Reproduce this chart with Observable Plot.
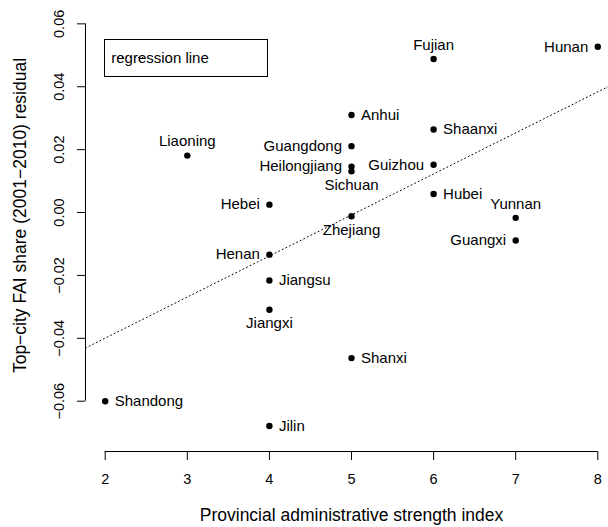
<!DOCTYPE html>
<html><head><meta charset="utf-8">
<script src="https://cdn.jsdelivr.net/npm/d3@7"></script>
<script src="https://cdn.jsdelivr.net/npm/@observablehq/plot@0.6"></script>
<style>
body{margin:0;background:#fff}
svg{font-family:"Liberation Sans",Arial,Helvetica,sans-serif}
</style>
</head><body><div id="chart"></div>
<script>
const provinces = ["Hunan","Fujian","Shaanxi","Anhui","Guangdong","Heilongjiang","Sichuan","Guizhou","Hebei","Zhejiang","Hubei","Yunnan","Guangxi","Henan","Jiangsu","Jiangxi","Shanxi","Liaoning","Shandong","Jilin"];
const adminIndex = [8,6,6,5,5,5,5,6,4,5,6,7,7,4,4,4,5,3,2,4];
const residual = [0.0527,0.0488,0.0264,0.0310,0.0211,0.0146,0.0131,0.0152,0.0025,-0.0012,0.0059,-0.0017,-0.0089,-0.0134,-0.0216,-0.0309,-0.0463,0.0181,-0.0600,-0.0679];
const labelSide = ["left","above","right","right","left","left","below","left","left","below","right","above","left","left","right","below","right","above","right","right"];
const xTicks = [2,3,4,5,6,7,8];
const yTicks = [-0.06,-0.04,-0.02,0,0.02,0.04,0.06];
const xLabel = "Provincial administrative strength index";
const yLabel = "Top\u2212city FAI share (2001\u22122010) residual";
const legendLabel = "regression line";

const rows = provinces.map((p,i)=>({name:p, x:adminIndex[i], y:residual[i], side:labelSide[i]}));
const mx = d3.mean(adminIndex), my = d3.mean(residual);
const slope = d3.sum(rows, d=>(d.x-mx)*(d.y-my)) / d3.sum(rows, d=>(d.x-mx)**2);
const intercept = my - slope*mx;

const xDomain = [1.76, 8.24];
const yDomain = [-0.076, 0.0652];
const regLine = xDomain.map(x => ({x, y: intercept + slope*x}));
const fmtY = d3.format(".2f");
const labelFont = 15;

const chart = Plot.plot({
  width: 608, height: 527,
  marginLeft: 85, marginRight: -9, marginTop: 7, marginBottom: 76,
  style: {fontFamily: '"Liberation Sans", Arial, Helvetica, sans-serif', background: "#fff", color: "#000"},
  x: {domain: xDomain},
  y: {domain: yDomain},
  marks: [
    Plot.line(regLine, {x: "x", y: "y", stroke: "#000", strokeWidth: 1, strokeDasharray: "1,3", clip: true}),
    Plot.ruleX([xDomain[0]], {y1: d3.min(yTicks), y2: d3.max(yTicks), stroke: "#000"}),
    Plot.ruleY([yDomain[0]], {x1: d3.min(xTicks), x2: d3.max(xTicks), stroke: "#000"}),
    Plot.axisX({ticks: xTicks, tickSize: 9, tickFormat: () => "", label: null, stroke: "#000"}),
    Plot.axisY({ticks: yTicks, tickSize: 8, tickFormat: () => "", label: null, stroke: "#000"}),
    Plot.text(xTicks, {x: d => d, y: () => yDomain[0], textAnchor: "middle", lineAnchor: "middle", dy: 28, text: d => String(d), fontSize: 14.5, fill: "#000", clip: false}),
    Plot.text(yTicks, {y: d => d, x: () => xDomain[0], textAnchor: "middle", lineAnchor: "middle", dx: -26, rotate: -90, text: d => fmtY(d), fontSize: 14.5, fill: "#000"}),
    Plot.text([xLabel], {frameAnchor: "bottom", textAnchor: "middle", lineAnchor: "middle", dy: 64, text: d => d, fontSize: 17.5, fill: "#000"}),
    Plot.text([yLabel], {frameAnchor: "left", textAnchor: "middle", lineAnchor: "middle", dx: -65, dy: -14, rotate: -90, text: d => d, fontSize: 17.5, fill: "#000"}),
    Plot.dot(rows, {x: "x", y: "y", r: 3.2, fill: "#000", stroke: null}),
    Plot.text(rows.filter(d => d.side === "right"), {x: "x", y: "y", text: "name", textAnchor: "start", lineAnchor: "middle", dx: 9.5, fontSize: labelFont, fill: "#000"}),
    Plot.text(rows.filter(d => d.side === "left"), {x: "x", y: "y", text: "name", textAnchor: "end", lineAnchor: "middle", dx: -9.5, fontSize: labelFont, fill: "#000"}),
    Plot.text(rows.filter(d => d.side === "above"), {x: "x", y: "y", text: "name", textAnchor: "middle", lineAnchor: "middle", dy: -14, fontSize: labelFont, fill: "#000"}),
    Plot.text(rows.filter(d => d.side === "below"), {x: "x", y: "y", text: "name", textAnchor: "middle", lineAnchor: "middle", dy: 14, fontSize: labelFont, fill: "#000"})
  ]
});
document.getElementById("chart").appendChild(chart);

// legend box (top-left inside the plot area)
const svg = d3.select(chart);
const lg = svg.append("g");
lg.append("rect").attr("x", 104.5).attr("y", 39.5).attr("width", 163).attr("height", 37)
  .attr("fill", "#fff").attr("stroke", "#000");
lg.append("line").attr("x1", 118).attr("x2", 145).attr("y1", 57.5).attr("y2", 57.5)
  .attr("stroke", "#000").attr("stroke-dasharray", "1,3");
lg.append("text").attr("x", 160).attr("y", 62.5).attr("font-size", labelFont).attr("fill", "#000").text(legendLabel);
</script>
</body></html>
